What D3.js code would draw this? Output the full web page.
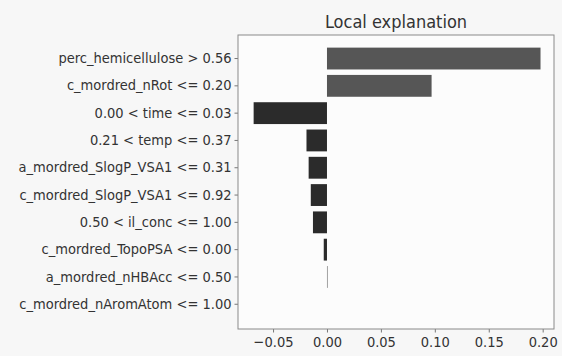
<!DOCTYPE html>
<html>
<head>
<meta charset="utf-8">
<script src="https://cdn.jsdelivr.net/npm/d3@7"></script>
<style>
  body { margin: 0; background: #f7f7f7; }
  text { font-family: "DejaVu Sans Condensed", "DejaVu Sans", sans-serif; font-stretch: condensed; fill: #333; }
</style>
</head>
<body>
<svg id="chart"></svg>
<script>
// features, top to bottom
var features = [
  "perc_hemicellulose > 0.56",
  "c_mordred_nRot <= 0.20",
  "0.00 < time <= 0.03",
  "0.21 < temp <= 0.37",
  "a_mordred_SlogP_VSA1 <= 0.31",
  "c_mordred_SlogP_VSA1 <= 0.92",
  "0.50 < il_conc <= 1.00",
  "c_mordred_TopoPSA <= 0.00",
  "a_mordred_nHBAcc <= 0.50",
  "c_mordred_nAromAtom <= 1.00"
];
var weights = [0.198, 0.097, -0.068, -0.019, -0.017, -0.015, -0.013, -0.003, 0.0005, 0.0];
var xTicks = [-0.05, 0.00, 0.05, 0.10, 0.15, 0.20];

var svgWidth = 562, svgHeight = 356;
var margin = {top: 35, right: 8, bottom: 27, left: 238};

var svg = d3.select("#chart")
  .attr("width", svgWidth)
  .attr("height", svgHeight);

var xScale = d3.scaleLinear()
  .domain([-0.0825, 0.2105])
  .range([margin.left, svgWidth - margin.right]);

var yScale = d3.scaleBand()
  .domain(features)
  .range([36.7, 326.1])
  .paddingInner(0.2)
  .paddingOuter(0.4);

// plot background
svg.append("rect")
  .attr("x", margin.left)
  .attr("y", margin.top)
  .attr("width", svgWidth - margin.right - margin.left)
  .attr("height", svgHeight - margin.bottom - margin.top)
  .attr("fill", "#fcfcfc");

// bars
svg.selectAll(".bar")
  .data(weights)
  .enter()
  .append("rect")
  .attr("class", "bar")
  .attr("x", function(d) { return xScale(Math.min(0, d)); })
  .attr("y", function(d, i) { return yScale(features[i]); })
  .attr("width", function(d) { return Math.abs(xScale(d) - xScale(0)); })
  .attr("height", yScale.bandwidth())
  .attr("fill", function(d) { return d > 0 ? "#565656" : "#2b2b2b"; });

// y axis
var yAxis = svg.append("g")
  .attr("transform", "translate(" + margin.left + ",0)")
  .call(d3.axisLeft(yScale).tickSize(3.5).tickPadding(3));
yAxis.selectAll("text").style("font-size", "14.5px");

// x axis
var xAxis = svg.append("g")
  .attr("transform", "translate(0," + (svgHeight - margin.bottom) + ")")
  .call(d3.axisBottom(xScale).tickValues(xTicks).tickSize(3.5).tickPadding(4)
    .tickFormat(d3.format(".2f")));
xAxis.selectAll("text").style("font-size", "14.5px");

svg.selectAll(".domain").remove();
svg.selectAll(".tick line").attr("stroke", "#777");

// frame
svg.append("rect")
  .attr("x", margin.left)
  .attr("y", margin.top)
  .attr("width", svgWidth - margin.right - margin.left)
  .attr("height", svgHeight - margin.bottom - margin.top)
  .attr("fill", "none")
  .attr("stroke", "#8a8a8a")
  .attr("stroke-width", 1);

// title
svg.append("text")
  .attr("x", (margin.left + svgWidth - margin.right) / 2)
  .attr("y", 28)
  .attr("text-anchor", "middle")
  .style("font-size", "18px")
  .text("Local explanation");
</script>
</body>
</html>
